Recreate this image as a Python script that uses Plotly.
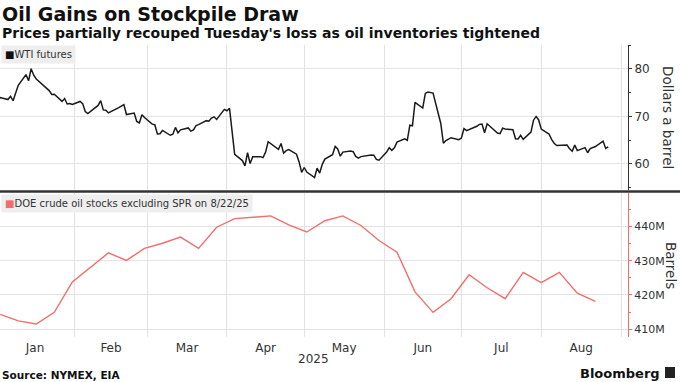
import plotly.graph_objects as go
from plotly.subplots import make_subplots

# ---------------- data ----------------
wti_dates = [
    "2025-01-02", "2025-01-03", "2025-01-06", "2025-01-07", "2025-01-08", "2025-01-10",
    "2025-01-13", "2025-01-14", "2025-01-15", "2025-01-16", "2025-01-17", "2025-01-21",
    "2025-01-22", "2025-01-23", "2025-01-24", "2025-01-27", "2025-01-28", "2025-01-29",
    "2025-01-30", "2025-01-31",
    "2025-02-03", "2025-02-04", "2025-02-05", "2025-02-06", "2025-02-07", "2025-02-10",
    "2025-02-11", "2025-02-12", "2025-02-13", "2025-02-14", "2025-02-18", "2025-02-19",
    "2025-02-20", "2025-02-21", "2025-02-24", "2025-02-25", "2025-02-26", "2025-02-27",
    "2025-02-28",
    "2025-03-03", "2025-03-04", "2025-03-05", "2025-03-06", "2025-03-07", "2025-03-10",
    "2025-03-11", "2025-03-12", "2025-03-13", "2025-03-14", "2025-03-17", "2025-03-18",
    "2025-03-19", "2025-03-20", "2025-03-21", "2025-03-24", "2025-03-25", "2025-03-26",
    "2025-03-27", "2025-03-28", "2025-03-31",
    "2025-04-01", "2025-04-02", "2025-04-03", "2025-04-04", "2025-04-07", "2025-04-08",
    "2025-04-09", "2025-04-10", "2025-04-11", "2025-04-14", "2025-04-15", "2025-04-16",
    "2025-04-17", "2025-04-21", "2025-04-22", "2025-04-23", "2025-04-24", "2025-04-25",
    "2025-04-28", "2025-04-29", "2025-04-30",
    "2025-05-01", "2025-05-02", "2025-05-05", "2025-05-06", "2025-05-07", "2025-05-08",
    "2025-05-09", "2025-05-12", "2025-05-13", "2025-05-14", "2025-05-15", "2025-05-16",
    "2025-05-19", "2025-05-20", "2025-05-21", "2025-05-22", "2025-05-23", "2025-05-27",
    "2025-05-28", "2025-05-29", "2025-05-30",
    "2025-06-02", "2025-06-03", "2025-06-04", "2025-06-05", "2025-06-06", "2025-06-09",
    "2025-06-10", "2025-06-11", "2025-06-12", "2025-06-13", "2025-06-16", "2025-06-17",
    "2025-06-18", "2025-06-20", "2025-06-23", "2025-06-24", "2025-06-25", "2025-06-26",
    "2025-06-27", "2025-06-30",
    "2025-07-01", "2025-07-02", "2025-07-03", "2025-07-07", "2025-07-08", "2025-07-09",
    "2025-07-10", "2025-07-11", "2025-07-14", "2025-07-15", "2025-07-16", "2025-07-17",
    "2025-07-18", "2025-07-21", "2025-07-22", "2025-07-23", "2025-07-24", "2025-07-25",
    "2025-07-28", "2025-07-29", "2025-07-30", "2025-07-31",
    "2025-08-01", "2025-08-04", "2025-08-05", "2025-08-06", "2025-08-07", "2025-08-08",
    "2025-08-11", "2025-08-12", "2025-08-13", "2025-08-14", "2025-08-15", "2025-08-18",
    "2025-08-19", "2025-08-20", "2025-08-21", "2025-08-22", "2025-08-25", "2025-08-26",
    "2025-08-27",
]
wti_values = [
    73.13, 73.96, 73.56, 74.25, 73.32, 76.57, 78.82, 77.50, 80.04, 78.68, 77.88, 75.83,
    75.44, 74.62, 74.66, 73.17, 73.77, 72.62, 72.73, 72.53,
    73.16, 72.70, 71.03, 70.61, 71.00, 72.32, 73.32, 71.37, 71.29, 70.74, 71.85, 72.25,
    72.48, 70.40, 70.70, 68.93, 68.62, 70.35, 69.76,
    68.37, 68.26, 66.31, 66.36, 67.04, 66.03, 66.25, 67.68, 66.55, 67.18, 67.58, 66.90,
    67.16, 68.07, 68.28, 69.11, 69.00, 69.65, 69.92, 69.36, 71.48,
    71.20, 71.71, 66.95, 61.99, 60.70, 59.58, 62.35, 60.07, 61.50, 61.53, 61.33, 62.47,
    64.68, 63.08, 64.31, 62.27, 62.79, 63.02, 62.05, 60.42, 58.21,
    59.24, 58.29, 57.13, 59.09, 58.07, 59.91, 61.02, 61.95, 63.67, 63.15, 61.62, 62.49,
    62.69, 62.56, 61.57, 61.20, 61.53, 61.89, 61.84, 60.94, 60.79,
    62.52, 63.41, 62.85, 63.37, 64.58, 65.29, 64.98, 68.15, 68.04, 72.98, 71.77, 74.84,
    75.14, 74.93, 68.51, 64.37, 64.92, 65.24, 65.52, 65.11,
    65.45, 67.45, 67.00, 67.93, 68.33, 68.38, 66.57, 68.45, 66.98, 66.52, 66.38, 67.54,
    67.34, 67.20, 65.31, 65.25, 66.03, 65.16, 66.71, 69.21, 70.00, 69.26,
    67.33, 66.29, 65.16, 64.35, 63.88, 63.88, 63.96, 63.17, 62.65, 63.96, 62.80, 63.42,
    62.35, 63.21, 63.52, 63.66, 64.80, 63.25, 63.60,
]

doe_dates = [
    "2025-01-03", "2025-01-10", "2025-01-17", "2025-01-24", "2025-01-31", "2025-02-07",
    "2025-02-14", "2025-02-21", "2025-02-28", "2025-03-07", "2025-03-14", "2025-03-21",
    "2025-03-28", "2025-04-04", "2025-04-11", "2025-04-18", "2025-04-25", "2025-05-02",
    "2025-05-09", "2025-05-16", "2025-05-23", "2025-05-30", "2025-06-06", "2025-06-13",
    "2025-06-20", "2025-06-27", "2025-07-04", "2025-07-11", "2025-07-18", "2025-07-25",
    "2025-08-01", "2025-08-08", "2025-08-15", "2025-08-22",
]
doe_values_m = [
    414.3, 412.4, 411.5, 414.9, 423.8, 428.1, 432.3, 430.1, 433.6, 435.1, 436.9, 433.6,
    439.8, 442.3, 442.8, 443.1, 440.5, 438.4, 441.7, 443.1, 440.3, 435.9, 432.5, 420.9,
    414.9, 418.9, 425.9, 422.1, 418.9, 426.6, 423.6, 426.6, 420.5, 418.1,
]

wti_ticks = [60, 70, 80]
doe_ticks = [410, 420, 430, 440]
doe_tick_labels = ["410M", "420M", "430M", "440M"]

# ---------------- geometry helpers ----------------
W, H = 680, 382
ML, MR, MT, MB = 0, 52, 45, 45
PW, PH = W - ML - MR, H - MT - MB


def px(x):
    return (x - ML) / PW


def py(y):
    return (H - MB - y) / PH


FONT = "DejaVu Sans"
DARK = "#333333"
RED = "#f26d6d"
GRID = "#e3e3e3"

fig = make_subplots(rows=2, cols=1, shared_xaxes=True, vertical_spacing=0.01)

fig.add_trace(go.Scatter(x=wti_dates, y=wti_values, mode="lines",
                         line=dict(color="#1a1a1a", width=1.5), name="WTI futures",
                         showlegend=False), row=1, col=1)
fig.add_trace(go.Scatter(x=doe_dates, y=doe_values_m, mode="lines",
                         line=dict(color=RED, width=1.4),
                         name="DOE crude oil stocks excluding SPR on 8/22/25",
                         showlegend=False), row=2, col=1)

xcommon = dict(range=["2025-01-02 22:00", "2025-09-03 16:00"], showgrid=True,
               gridcolor=GRID, gridwidth=1, dtick="M1", tick0="2025-01-01",
               ticklabelmode="period", tickformat="%b", ticks="", zeroline=False,
               showline=False, tickfont=dict(family=FONT, size=12, color=DARK))

fig.update_layout(
    width=W, height=H,
    margin=dict(l=ML, r=MR, t=MT, b=MB),
    paper_bgcolor="white", plot_bgcolor="white",
    font=dict(family=FONT, color=DARK),
    xaxis=dict(**xcommon, showticklabels=False),
    xaxis2=dict(**xcommon, showticklabels=True, ticklabelstandoff=2),
    yaxis=dict(domain=[py(190), 1.0], range=[54.5, 85.05], side="right",
               tickvals=wti_ticks, showgrid=True, gridcolor=GRID, zeroline=False,
               showline=True, linecolor=DARK, linewidth=1, ticks="outside", ticklen=3,
               tickcolor=DARK, tickfont=dict(family=FONT, size=12, color=DARK),
               minor=dict(ticks="outside", tickvals=[55, 65, 75, 85], ticklen=2,
                          tickcolor=DARK, showgrid=False)),
    yaxis2=dict(domain=[0.0, py(193)], range=[407.7, 449.8], side="right",
                tickvals=doe_ticks, ticktext=doe_tick_labels, showgrid=True,
                gridcolor=GRID, zeroline=False, showline=True, linecolor=RED,
                linewidth=1, ticks="outside", ticklen=3, tickcolor=RED,
                tickfont=dict(family=FONT, size=11, color=DARK),
                minor=dict(ticks="outside", tickvals=[415, 425, 435, 445], ticklen=2,
                           tickcolor=RED, showgrid=False)),
)

# separator line between panels
fig.add_shape(type="line", xref="paper", yref="paper", x0=px(0), x1=px(W),
              y0=py(191.5), y1=py(191.5), line=dict(color=DARK, width=2.5))

# Bloomberg icon
fig.add_shape(type="rect", xref="paper", yref="paper", x0=px(665), x1=px(675),
              y0=py(378), y1=py(367), fillcolor="#222222", line=dict(width=0))

ann = []


def note(text, x, y, size, xanchor="left", yanchor="middle", bold=False, angle=0,
         color=DARK, bg=None, pad=0):
    ann.append(dict(text=f"<b>{text}</b>" if bold else text, x=px(x), y=py(y),
                    xref="paper", yref="paper", xanchor=xanchor, yanchor=yanchor,
                    showarrow=False, textangle=angle, bgcolor=bg, borderpad=pad,
                    font=dict(family=FONT, size=size, color=color)))


note("Oil Gains on Stockpile Draw", 1, 14, 19, bold=True, color="#111111")
note("Prices partially recouped Tuesday's loss as oil inventories tightened", 1, 33, 14,
     bold=True, color="#111111")
note("<span style='color:#111111'>■</span>WTI futures", 1, 45.5, 10, yanchor="top",
     bg="#eeeeee", pad=3)
note(f"<span style='color:{RED}'>■</span>DOE crude oil stocks excluding SPR on 8/22/25",
     1, 194, 10, yanchor="top", bg="#eeeeee", pad=3)
note("Dollars a barrel", 668, 117, 13.5, xanchor="center", angle=90)
note("Barrels", 671, 265, 13.5, xanchor="center", angle=90)
note("2025", 313, 359, 12, xanchor="center")
note("Source: NYMEX, EIA", 1, 375, 10.5, bold=True, color="#111111")
note("Bloomberg", 661, 373, 13, xanchor="right", bold=True, color="#111111")

fig.update_layout(annotations=ann)

fig.write_html("out.html", config={"displayModeBar": False},
               post_script="document.body.style.margin='0';document.body.style.padding='0';")
